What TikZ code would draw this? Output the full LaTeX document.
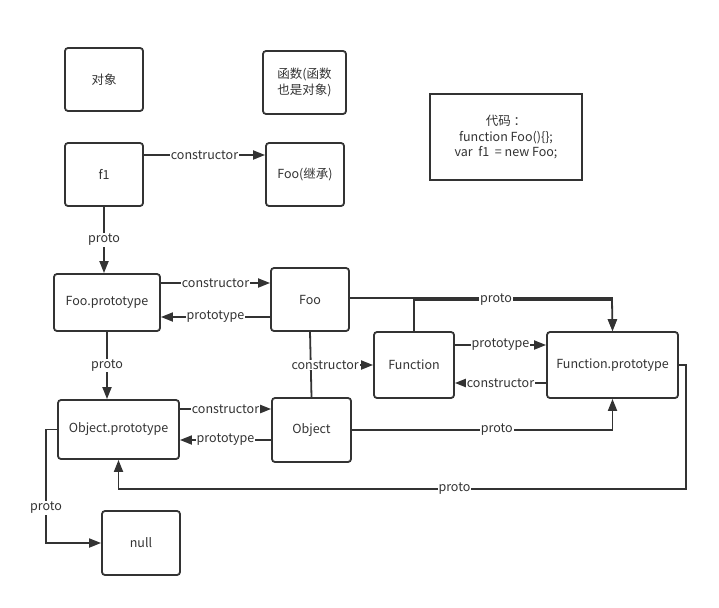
\documentclass[tikz,border=0pt]{standalone}
\usepackage{fontspec}
\setmainfont{Noto Sans CJK SC}
\usetikzlibrary{arrows.meta,positioning}
\definecolor{ink}{HTML}{333333}
\tikzset{
  >={Triangle[length=12pt,width=9pt]},
  blk/.style={draw=ink, line width=1.8pt, rounded corners=3pt, text=ink,
    align=center, font=\fontsize{12.5}{15.5}\selectfont},
  lbl/.style={fill=white, inner sep=1pt, text=ink, font=\fontsize{12.5}{14}\selectfont},
  arr/.style={->, draw=ink, line width=1.8pt},
}

\begin{document}
\begin{tikzpicture}[x=1pt, y=-1pt]
  \useasboundingbox (0,0) rectangle (719,607);
  % legend boxes
  \node[blk, minimum width=78pt, minimum height=63pt] (objkey) at (104,79.5)  {对象};
  \node[blk, minimum width=83pt, minimum height=63pt] (funkey) at (304.5,82.5) {函数(函数\\也是对象)};
  \node[blk, rounded corners=0pt, minimum width=152pt, minimum height=86pt] (code) at (506,137)
    {代码 ：\\function Foo()\{\};\\var~~f1~~= new Foo;};
  % instances
  \node[blk, minimum width=78pt,  minimum height=63pt] (f1)        at (104,174.5) {f1};
  \node[blk, minimum width=78pt,  minimum height=63pt] (fooinh)    at (305,174.5) {Foo(继承)};
  \node[blk, minimum width=106pt, minimum height=57pt] (fooproto)  at (107,302.5) {Foo.prototype};
  \node[blk, minimum width=78pt,  minimum height=63pt] (foo)       at (310,299.5) {Foo};
  \node[blk, minimum width=80pt,  minimum height=66pt] (func)      at (414,365)   {Function};
  \node[blk, minimum width=131pt, minimum height=66pt] (funcproto) at (612.5,365) {Function.prototype};
  \node[blk, minimum width=121pt, minimum height=59pt] (objproto)  at (118.5,429.5) {Object.prototype};
  \node[blk, minimum width=79pt,  minimum height=64pt] (object)    at (311.5,430) {Object};
  \node[blk, minimum width=78pt,  minimum height=64pt] (null)      at (141,543)   {null};
  \coordinate (fnjoin) at (612,300);
  \coordinate (loop)   at (686,489);

  % f1
  \draw[arr] ([yshift=19.5pt]f1.east) coordinate (c1) -- (c1 -| fooinh.west)
    node[lbl, pos=0.5] {constructor};
  \draw[arr] (f1.south) -- (f1.south |- fooproto.north) node[lbl, midway] {proto};
  % Foo and Foo.prototype
  \draw[arr] ([yshift=19.5pt]fooproto.east) coordinate (c2) -- (c2 -| foo.west)
    node[lbl, midway] {constructor};
  \draw[arr] ([yshift=-17.5pt]foo.west) coordinate (c3) -- (c3 -| fooproto.east)
    node[lbl, midway] {prototype};
  \draw[arr] (fooproto.south) -- (fooproto.south |- objproto.north) node[lbl, midway] {proto};
  \draw[arr] ([yshift=1.5pt]foo.east) -| (funcproto.north);
  \draw[arr] (func.north) |- (fnjoin) -- (funcproto.north);
  \node[lbl] (fnproto) at (496,300) {proto};
  % constructor of Foo and Object
  \draw[draw=ink, line width=1.8pt] (foo.south) -- (object.north);
  \draw[arr] (foo.south |- func.west) -- (func.west) node[lbl, pos=0.24] {constructor};
  % Function and Function.prototype
  \draw[arr] ([yshift=20pt]func.east) coordinate (c4) -- (c4 -| funcproto.west)
    node[lbl, midway] {prototype};
  \draw[arr] ([yshift=-18pt]funcproto.west) coordinate (c5) -- (c5 -| func.east)
    node[lbl, midway] {constructor};
  \draw[arr] (object.east) -| (funcproto.south) node[lbl, pos=0.278] {proto};
  \draw[arr] (funcproto.east) -| (loop) -| (objproto.south) node[lbl, pos=0.204] {proto};
  % Object and Object.prototype
  \draw[arr] ([yshift=20.5pt]objproto.east) coordinate (c6) -- (c6 -| object.west)
    node[lbl, midway] {constructor};
  \draw[arr] ([yshift=-10pt]object.west) coordinate (c7) -- (c7 -| objproto.east)
    node[lbl, midway] {prototype};
  \draw[arr] (objproto.west) -- ++(-11,0) |- (null.west) node[lbl, pos=0.345] {proto};
\end{tikzpicture}
\end{document}
